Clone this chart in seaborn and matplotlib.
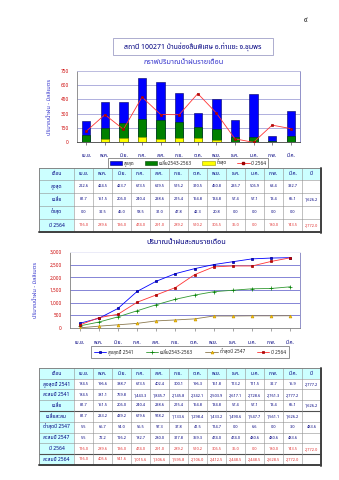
import matplotlib
matplotlib.use("Agg")
import matplotlib.pyplot as plt
import numpy as np
import pandas as pd
import seaborn as sns
from matplotlib.patches import Rectangle, Patch
from matplotlib.lines import Line2D
from matplotlib.ticker import FuncFormatter

# ---------------- data ----------------
months = ["เม.ย.", "พ.ค.", "มิ.ย.", "ก.ค.", "ส.ค.", "ก.ย.", "ต.ค.", "พ.ย.", "ธ.ค.", "ม.ค.", "ก.พ.", "มี.ค."]

max_month = [222.6, 424.5, 423.7, 673.5, 629.5, 515.2, 310.5, 450.8, 235.7, 506.9, 63.4, 332.7]
avg_month = [81.7, 151.5, 206.0, 240.4, 238.6, 215.4, 164.8, 134.8, 57.4, 57.1, 13.4, 65.1]
min_month = [0.0, 32.5, 46.0, 58.5, 31.0, 47.8, 42.3, 20.8, 0.0, 0.0, 0.0, 0.0]
y2564_month = [116.0, 289.6, 136.0, 474.0, 291.0, 289.2, 510.2, 306.5, 36.0, 0.0, 180.0, 143.5]

max2541_month = [184.5, 196.6, 388.7, 673.5, 402.4, 300.1, 196.3, 161.8, 113.2, 111.5, 32.7, 15.9]
max2541_cum = [184.5, 381.1, 769.8, 1443.3, 1845.7, 2145.8, 2342.1, 2503.9, 2617.1, 2728.6, 2761.3, 2777.2]
avg_cum = [81.7, 233.2, 439.2, 679.6, 918.2, 1133.6, 1298.4, 1433.2, 1490.6, 1547.7, 1561.1, 1626.2]
min2547_month = [5.5, 66.7, 54.0, 56.5, 97.3, 37.8, 41.5, 114.7, 0.0, 6.6, 0.0, 3.0]
min2547_cum = [5.5, 72.2, 126.2, 182.7, 280.0, 317.8, 359.3, 474.0, 474.0, 480.6, 480.6, 483.6]
y2564_cum = [116.0, 405.6, 541.6, 1015.6, 1306.6, 1595.8, 2106.0, 2412.5, 2448.5, 2448.5, 2628.5, 2772.0]

total_max2541 = 2777.2
total_avg = 1626.2
total_min2547 = 483.6
total_2564 = 2772.0

title_main = "สถานี 100271 บ้านช่องลิ้นพิเศษ อ.ท่าแซะ จ.ชุมพร"
title_bar = "กราฟปริมาณน้ำฝนรายเดือน"
title_cum = "ปริมาณน้ำฝนสะสมรายเดือน"
ylab = "ปริมาณน้ำฝน - มิลลิเมตร"
leg1_labels = ["สูงสุด", "เฉลี่ย2543-2563", "ต่ำสุด", "ปี 2564"]
leg2_labels = ["สูงสุดปี 2541", "เฉลี่ย2543-2563", "ต่ำสุดปี 2547", "ปี 2564"]

# ---------------- style ----------------
sns.set_theme(style="white")
plt.rcParams["font.family"] = ["Noto Sans Thai", "DejaVu Sans"]

W, H = 339, 480
fig = plt.figure(figsize=(W / 100, H / 100), dpi=100)
fig.patch.set_facecolor("white")


def box(l, t, r, b):
    return [l / W, 1 - b / H, (r - l) / W, (b - t) / H]


NAVY = "#000080"
TBLUE = "#3333CC"

# overlay axes in pixel coordinates for texts / tables
ov = fig.add_axes([0, 0, 1, 1], zorder=0)
ov.set_xlim(0, W)
ov.set_ylim(H, 0)
ov.axis("off")

ov.text(305, 20, "๙", fontsize=5, ha="center", va="center", color="black")
ov.add_patch(Rectangle((113, 38), 160, 17, fill=False, ec="#A0A0C8", lw=0.6))
ov.text(193, 47, title_main, fontsize=5, ha="center", va="center", color=NAVY, fontweight="bold")
ov.text(184, 62, title_bar, fontsize=5.2, ha="center", va="center", color=TBLUE, fontweight="bold")
ov.text(186, 242, title_cum, fontsize=5.2, ha="center", va="center", color=NAVY, fontweight="bold")

# ---------------- chart 1: monthly bars ----------------
df1 = pd.DataFrame({"month": months, "max": max_month, "avg": avg_month,
                    "min": min_month, "y2564": y2564_month})
ax1 = fig.add_axes(box(77, 70.7, 300, 142.3), zorder=2)
ax1.set_facecolor("white")
sns.barplot(data=df1, x="month", y="max", color="#0000FF", saturation=1, width=0.45,
            edgecolor="#000060", linewidth=0.4, ax=ax1)
sns.barplot(data=df1, x="month", y="avg", color="#008000", saturation=1, width=0.45,
            edgecolor="#004000", linewidth=0.4, ax=ax1)
sns.barplot(data=df1, x="month", y="min", color="#FFFF00", saturation=1, width=0.45,
            edgecolor="#999900", linewidth=0.4, ax=ax1)
sns.pointplot(data=df1, x="month", y="y2564", color="#FF3333", markers="s", linestyles="-",
              errorbar=None, ax=ax1, markersize=1.8, linewidth=0.6)
for ln in ax1.lines:
    ln.set_markerfacecolor("#CC0000")
    ln.set_markeredgecolor("#990000")
    ln.set_zorder(6)
ax1.set_ylim(0, 750)
ax1.set_xlim(-0.5, 11.5)
ax1.set_yticks(np.arange(0, 751, 150))
ax1.yaxis.grid(True, color="#9090D0", lw=0.5)
ax1.set_axisbelow(True)
ax1.tick_params(axis="y", labelsize=3.4, labelcolor="#CC0000", length=0, pad=6)
ax1.tick_params(axis="x", labelsize=3.6, labelcolor=NAVY, length=2, width=0.4,
                direction="out", pad=6, bottom=True)
ax1.set_xlabel("")
ax1.set_ylabel(ylab, fontsize=4, color=TBLUE, labelpad=6)
for s, c in [("left", "#808080"), ("right", "#8080C0"), ("top", "#C0C0E0"), ("bottom", "#404040")]:
    ax1.spines[s].set_color(c)
    ax1.spines[s].set_linewidth(0.6)

h1 = [Patch(fc="#0000FF", ec="#000060", lw=0.4),
      Patch(fc="#008000", ec="#004000", lw=0.4),
      Patch(fc="#FFFF00", ec="#999900", lw=0.4),
      Line2D([], [], color="#FF3333", lw=0.6, marker="s", markersize=1.8,
             markerfacecolor="#CC0000", markeredgecolor="#990000")]
leg1 = fig.legend(h1, leg1_labels, loc="center", bbox_to_anchor=(188 / W, 1 - 163 / H),
                  ncol=4, fontsize=3.4, frameon=True, fancybox=False, edgecolor="#404040",
                  handlelength=2.6, handleheight=0.9, columnspacing=2.2, borderpad=0.35,
                  handletextpad=0.4)
leg1.get_frame().set_linewidth(0.5)

# ---------------- chart 2: cumulative lines ----------------
df2 = pd.DataFrame({"month": months, "max": max2541_cum, "avg": avg_cum,
                    "min": min2547_cum, "y2564": y2564_cum})
ax2 = fig.add_axes(box(70, 252, 300, 328), zorder=2)
ax2.set_facecolor("white")
specs = [("max", "#0000FF", "s", "#0000FF", "#000080", 1.8),
         ("avg", "#339933", "+", "#008000", "#008000", 2.2),
         ("min", "#8C7A50", "^", "#FFCC00", "#CC9900", 2.0),
         ("y2564", "#FF3333", "s", "#CC0000", "#990000", 1.8)]
for col, lc, mk, mfc, mec, ms in specs:
    n0 = len(ax2.lines)
    sns.pointplot(data=df2, x="month", y=col, color=lc, markers=mk, linestyles="-",
                  errorbar=None, ax=ax2, markersize=ms, linewidth=0.6)
    for ln in ax2.lines[n0:]:
        ln.set_markerfacecolor(mfc)
        ln.set_markeredgecolor(mec)
        ln.set_markeredgewidth(0.5)
        ln.set_zorder(5)
ax2.set_ylim(0, 3000)
ax2.set_xlim(-0.5, 11.5)
ax2.set_yticks(np.arange(0, 3001, 500))
ax2.yaxis.set_major_formatter(FuncFormatter(lambda v, p: f"{int(v):,}"))
ax2.yaxis.grid(True, color="#7070D0", lw=0.6)
ax2.set_axisbelow(True)
ax2.tick_params(axis="y", labelsize=3.4, labelcolor="#CC0000", length=0, pad=6)
ax2.tick_params(axis="x", labelsize=3.6, labelcolor=NAVY, length=2.5, width=0.4,
                direction="out", pad=6, bottom=True, color="#606060")
ax2.set_xlabel("")
ax2.set_ylabel(ylab, fontsize=4, color=TBLUE, labelpad=8)
for s, c in [("left", "#808080"), ("right", "#8080C0"), ("top", "#FFFFFF"), ("bottom", "#808080")]:
    ax2.spines[s].set_color(c)
    ax2.spines[s].set_linewidth(0.6)

h2 = [Line2D([], [], color=lc, lw=0.6, marker=mk, markersize=ms,
             markerfacecolor=mfc, markeredgecolor=mec, markeredgewidth=0.5)
      for _, lc, mk, mfc, mec, ms in specs]
leg2 = fig.legend(h2, leg2_labels, loc="center", bbox_to_anchor=(190 / W, 1 - 352 / H),
                  ncol=4, fontsize=3.4, frameon=True, fancybox=False, edgecolor="#404040",
                  handlelength=2.6, columnspacing=2.6, borderpad=0.6, handletextpad=0.4)
leg2.get_frame().set_linewidth(0.5)


# ---------------- tables ----------------
def fmt(v):
    return f"{v:,.1f}"


def draw_table(top, header_h, row_h, rows, heavy_after=()):
    lx0, lx1 = 39, 74
    cw = 19.0
    ncol = 13
    right = lx1 + cw * ncol
    bottom = top + header_h + row_h * len(rows)
    ov.add_patch(Rectangle((lx0, top), right - lx0, header_h, fc="#CCFFFF", ec="none"))
    ov.add_patch(Rectangle((lx0, top + header_h), lx1 - lx0, bottom - top - header_h,
                           fc="#CCFFFF", ec="none"))
    hdr = ["เดือน"] + months + ["ปี"]
    ov.text((lx0 + lx1) / 2, top + header_h / 2, hdr[0], fontsize=3.6, ha="center",
            va="center", color=NAVY)
    for j in range(ncol):
        ov.text(lx1 + cw * (j + 0.5), top + header_h / 2, hdr[j + 1], fontsize=3.6,
                ha="center", va="center", color=NAVY)
    for i, (label, vals, total, color) in enumerate(rows):
        yc = top + header_h + row_h * (i + 0.5)
        ov.text((lx0 + lx1) / 2, yc, label, fontsize=3.6, ha="center", va="center",
                color=NAVY)
        for j, v in enumerate(vals):
            ov.text(lx1 + cw * (j + 0.5), yc, fmt(v), fontsize=2.8, ha="center",
                    va="center", color=color)
        if total is not None:
            ov.text(lx1 + cw * 12.5, yc, fmt(total), fontsize=2.8, ha="center",
                    va="center", color=color)
    ys = [top + header_h + row_h * k for k in range(len(rows) + 1)]
    for k, y in enumerate([top] + ys):
        lw = 0.4
        c = "#909090"
        if (k - 1) in heavy_after:
            lw, c = 0.8, "#505050"
        ov.plot([lx0, right], [y, y], color=c, lw=lw)
    xs = [lx0, lx1] + [lx1 + cw * j for j in range(1, ncol + 1)]
    for x in xs:
        ov.plot([x, x], [top, bottom], color="#909090", lw=0.4)
    ov.plot([lx0, right], [top, top], color="#808080", lw=0.6)
    ov.plot([lx0, lx0], [top, bottom], color="#808080", lw=0.6)
    ov.plot([right, right], [top, bottom + 0.8], color="#404040", lw=1.4)
    ov.plot([lx0, right], [bottom, bottom], color="#404040", lw=1.4)


RED = "#E03030"
VBLUE = "#000080"
rows1 = [("สูงสุด", max_month, None, VBLUE),
         ("เฉลี่ย", avg_month, total_avg, VBLUE),
         ("ต่ำสุด", min_month, None, VBLUE),
         ("ปี 2564", y2564_month, total_2564, RED)]
draw_table(168, 11.5, 13.1, rows1)

rows2 = [("สูงสุดปี 2541", max2541_month, total_max2541, VBLUE),
         ("สะสมปี 2541", max2541_cum, None, VBLUE),
         ("เฉลี่ย", avg_month, total_avg, VBLUE),
         ("เฉลี่ยสะสม", avg_cum, None, VBLUE),
         ("ต่ำสุดปี 2547", min2547_month, total_min2547, VBLUE),
         ("สะสมปี 2547", min2547_cum, None, VBLUE),
         ("ปี 2564", y2564_month, total_2564, RED),
         ("สะสมปี 2564", y2564_cum, None, RED)]
draw_table(368, 10.5, 10.8, rows2, heavy_after=(3, 7))

fig.savefig("out.png", dpi=100, facecolor="white")
